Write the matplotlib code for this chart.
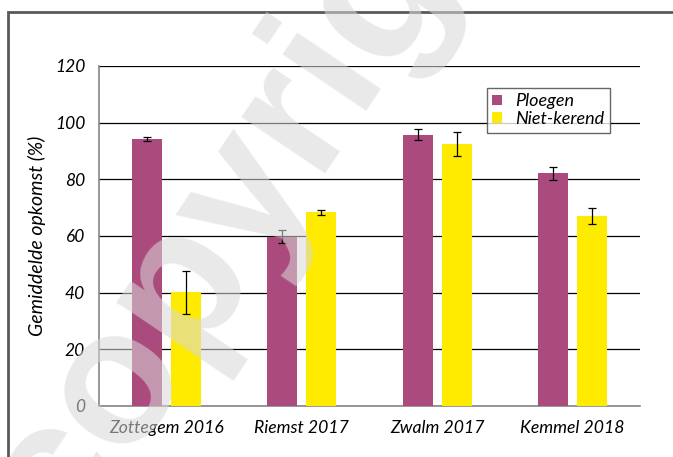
import numpy as np
import matplotlib.pyplot as plt
from matplotlib.patches import Rectangle

# data
sites = ["Zottegem 2016", "Riemst 2017", "Zwalm 2017", "Kemmel 2018"]
ploegen = [94.1, 59.8, 95.8, 82.1]
ploegen_err = [0.7, 2.3, 2.0, 2.3]
niet_kerend = [40.1, 68.3, 92.4, 67.1]
niet_kerend_err = [7.7, 0.9, 4.3, 2.9]
yticks = [0, 20, 40, 60, 80, 100, 120]

plt.rcParams['font.family'] = ['Lato', 'DejaVu Sans']

fig = plt.figure(figsize=(6.73, 4.57), dpi=100)
ax = fig.add_axes([99 / 673, 1 - 406 / 457, 541 / 673, 340 / 457])

# outer frame of the chart area (runs off the right and bottom edge)
fig.patches.append(Rectangle((8 / 673, -0.1), 1.0, 1 - 12 / 457 + 0.1,
                             transform=fig.transFigure, fill=False,
                             edgecolor='#595959', linewidth=2))

x = np.arange(len(sites))
w = 0.222
off = 0.144
err_kw = dict(ecolor='black', elinewidth=0.9, capsize=3, capthick=0.9)
ax.bar(x - off, ploegen, w, yerr=ploegen_err, color='#AB4A7C',
       label='Ploegen', error_kw=err_kw, zorder=3)
ax.bar(x + off, niet_kerend, w, yerr=niet_kerend_err, color='#FFEB00',
       label='Niet-kerend', error_kw=err_kw, zorder=3)

ax.set_xlim(-0.5, len(sites) - 0.5)
ax.set_ylim(0, 120)
ax.set_yticks(yticks)
ax.set_yticklabels([str(v) for v in yticks], fontsize=12.5, style='italic')
ax.set_xticks(x)
ax.set_xticklabels(sites, fontsize=12.7, style='italic')
ax.tick_params(axis='both', length=0)
ax.tick_params(axis='y', pad=10)
ax.tick_params(axis='x', pad=10)
ax.yaxis.grid(True, color='black', linewidth=0.9, zorder=0)
ax.set_axisbelow(True)
for s in ['top', 'right']:
    ax.spines[s].set_visible(False)
for s in ['left', 'bottom']:
    ax.spines[s].set_color('#868686')
    ax.spines[s].set_linewidth(1.2)

ax.set_ylabel('Gemiddelde opkomst (%)', fontsize=14, style='italic', labelpad=6)

leg = ax.legend(loc='upper left', bbox_to_anchor=(388 / 541, 1 - 22 / 340),
                frameon=True, fancybox=False, fontsize=13, handlelength=0.55,
                handleheight=0.55, handletextpad=0.7, borderpad=0.3,
                labelspacing=0.1, borderaxespad=0)
leg.get_frame().set_edgecolor('#404040')
leg.get_frame().set_linewidth(1)
for t in leg.get_texts():
    t.set_style('italic')

# watermark
fig.text(310 / 673, 1 - 186 / 457, 'copyright', fontsize=138, rotation=56,
         rotation_mode='anchor', color='#d8d8d8', alpha=0.56, ha='center',
         va='baseline', family='Liberation Sans', fontweight='bold', zorder=10)

fig.savefig('out.png', dpi=100)
